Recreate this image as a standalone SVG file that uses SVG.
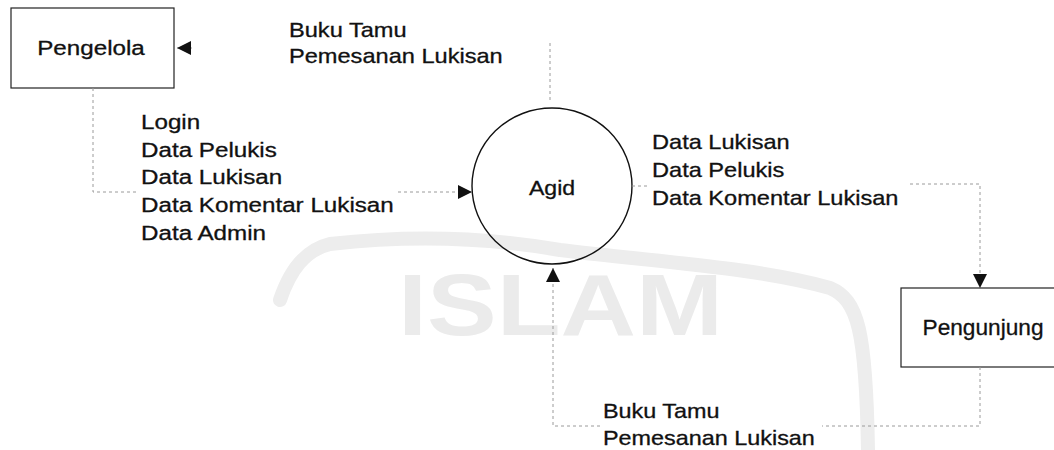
<svg xmlns="http://www.w3.org/2000/svg" width="1054" height="450" viewBox="0 0 1054 450">
  <style>
    .lbl { font-family: "Liberation Sans", Arial, sans-serif; font-size: 20px; fill: #111; stroke: #111; stroke-width: 0.3; }
    .node-box { fill: #fff; stroke: #222; stroke-width: 1.2; }
    .node-txt { font-family: "Liberation Sans", Arial, sans-serif; fill: #111; stroke: #111; stroke-width: 0.3; text-anchor: middle; }
    .flow { fill: none; stroke: #9a9a9a; stroke-width: 1; stroke-dasharray: 3 3; }
    .wm { fill: #ebebeb; }
    .wm-line { fill: none; stroke: #ededed; stroke-width: 14; stroke-linecap: round; stroke-linejoin: round; }
  </style>
  <defs>
    <marker id="arrow" viewBox="0 0 10 10" refX="10" refY="5" markerWidth="15" markerHeight="14" markerUnits="userSpaceOnUse" orient="auto">
      <path d="M0,0 L10,5 L0,10 z" fill="#111"/>
    </marker>
  </defs>

  <rect width="1054" height="450" fill="#fff"/>

  <!-- faint seal printed behind the diagram -->
  <g id="seal">
    <path class="wm-line" d="M280,300 C290,270 305,250 330,244 C400,236 480,236 560,250 C660,262 760,268 830,288 C858,300 866,330 868,450"/>
    <text class="wm" x="398" y="335" font-family="Liberation Sans, Arial, sans-serif" font-weight="bold" font-size="88" textLength="325" lengthAdjust="spacingAndGlyphs">ISLAM</text>
  </g>

  <!-- external entity: Pengelola -->
  <g id="pengelola">
    <rect class="node-box" x="11" y="8" width="163" height="80"/>
    <text class="node-txt" font-size="20" transform="translate(91,55) scale(1.21,1)">Pengelola</text>
  </g>

  <!-- process: Agid -->
  <g id="agid">
    <ellipse cx="552" cy="186" rx="80" ry="78" fill="none" stroke="#111" stroke-width="1.4"/>
    <text class="node-txt" font-size="21" transform="translate(552,195) scale(1.1,1)">Agid</text>
  </g>

  <!-- external entity: Pengunjung (runs off the right edge) -->
  <g id="pengunjung">
    <rect class="node-box" x="901" y="288" width="170" height="79"/>
    <text class="node-txt" font-size="22" transform="translate(983,335) scale(1.03,1)">Pengunjung</text>
  </g>

  <!-- data flows -->
  <g id="connectors">
    <path id="flow-agid-pengelola" class="flow" d="M550,100 V42 M192,48 H177" marker-end="url(#arrow)"/>
    <path id="flow-pengelola-agid" class="flow" d="M93,88 V192 H136 M398,192 H472" marker-end="url(#arrow)"/>
    <path id="flow-agid-pengunjung" class="flow" d="M632,186 H648 M910,184 H980 V288" marker-end="url(#arrow)"/>
    <path id="flow-pengunjung-agid" class="flow" d="M980,367 V426 H822 M600,426 H553 V268" marker-end="url(#arrow)"/>
  </g>

  <!-- flow labels -->
  <g id="label-top" class="lbl" transform="translate(289,0) scale(1.18,1)">
    <text x="0" y="37">Buku Tamu</text>
    <text x="0" y="63">Pemesanan Lukisan</text>
  </g>
  <g id="label-left" class="lbl" transform="translate(141,0) scale(1.21,1)">
    <text x="0" y="129">Login</text>
    <text x="0" y="157">Data Pelukis</text>
    <text x="0" y="184">Data Lukisan</text>
    <text x="0" y="212">Data Komentar Lukisan</text>
    <text x="0" y="240">Data Admin</text>
  </g>
  <g id="label-right" class="lbl" transform="translate(652,0) scale(1.18,1)">
    <text x="0" y="149">Data Lukisan</text>
    <text x="0" y="177">Data Pelukis</text>
    <text x="0" y="205">Data Komentar Lukisan</text>
  </g>
  <g id="label-bottom" class="lbl" transform="translate(603,0) scale(1.17,1)">
    <text x="0" y="418">Buku Tamu</text>
    <text x="0" y="445">Pemesanan Lukisan</text>
  </g>
</svg>
